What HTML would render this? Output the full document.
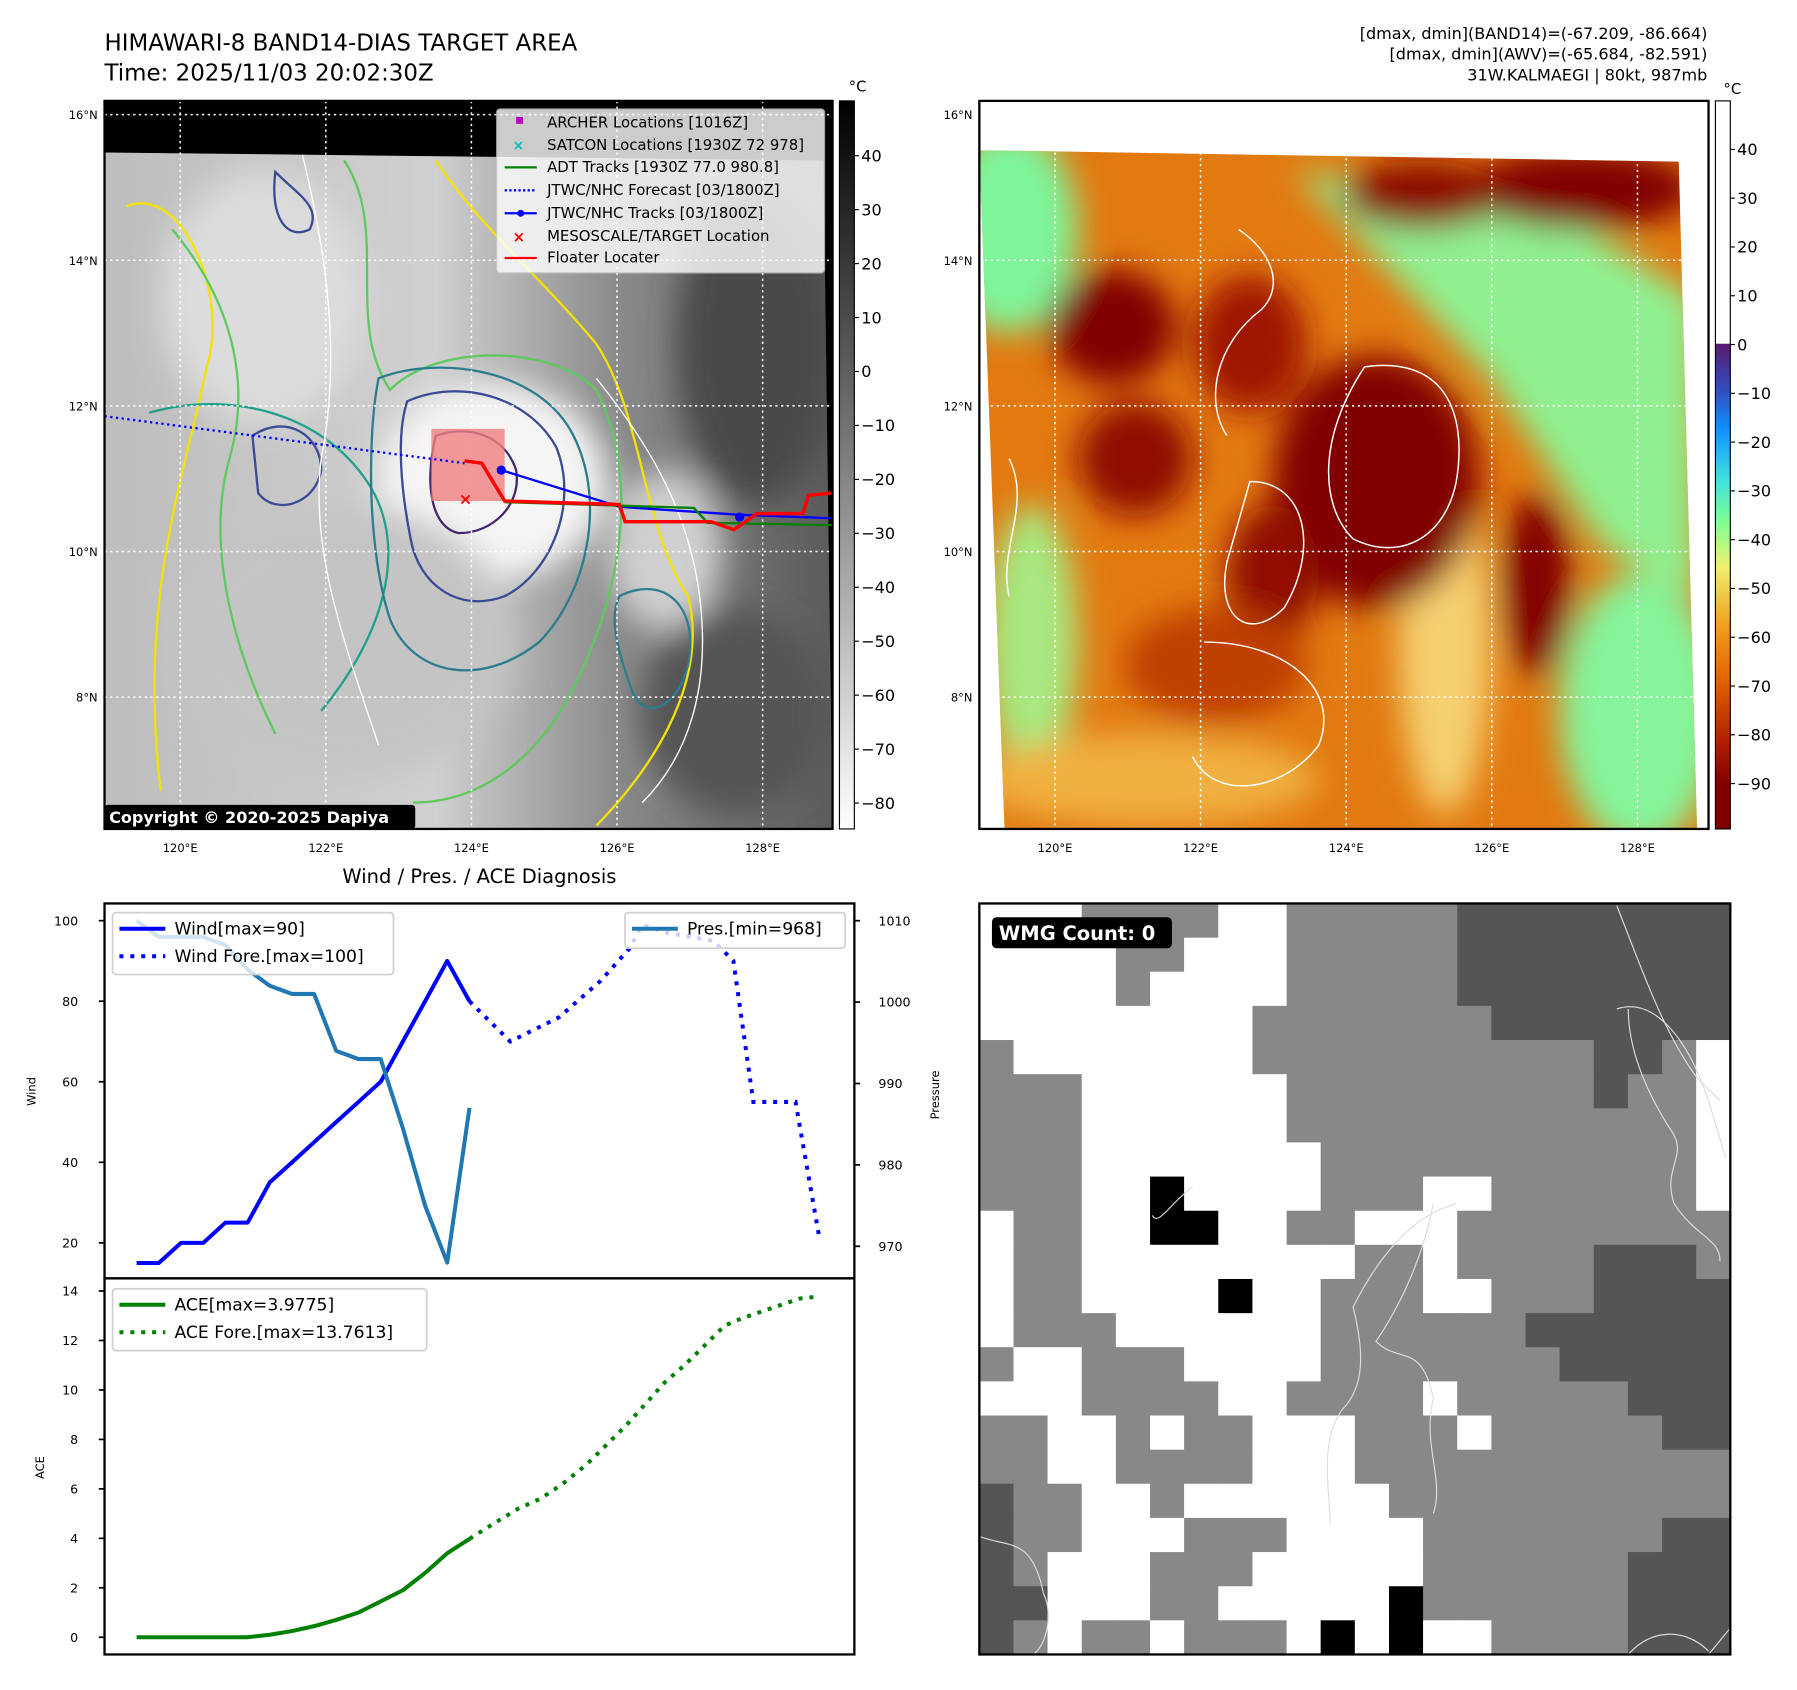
<!DOCTYPE html>
<html><head><meta charset="utf-8"><title>Dapiya diagnosis</title>
<style>
html,body{margin:0;padding:0;background:#fff;}
svg{display:block;font-family:"DejaVu Sans","Liberation Sans",sans-serif;}
</style></head>
<body>
<svg id="root" width="1797" height="1690" viewBox="0 0 1567 1474" xmlns="http://www.w3.org/2000/svg">
<defs>
  <filter id="blur8" x="-50%" y="-50%" width="200%" height="200%"><feGaussianBlur stdDeviation="14"/></filter>
  <clipPath id="clipL"><polygon points="91,133 718,140 726,723 91,723"/></clipPath>
  <clipPath id="clipR"><polygon points="854,131 1464,141 1480,723 876,723"/></clipPath>
  <linearGradient id="cbGray" x1="0" y1="0" x2="0" y2="1">
    <stop offset="0" stop-color="#000"/><stop offset="1" stop-color="#fff"/>
  </linearGradient>
  <linearGradient id="cbColor" x1="0" y1="0" x2="0" y2="1">
    <stop offset="0" stop-color="#fff"/><stop offset="0.333" stop-color="#fff"/>
    <stop offset="0.334" stop-color="#5a1a70"/><stop offset="0.40" stop-color="#3050c0"/>
    <stop offset="0.45" stop-color="#1090ff"/><stop offset="0.52" stop-color="#40e0e0"/>
    <stop offset="0.58" stop-color="#80ff90"/><stop offset="0.64" stop-color="#f0f070"/>
    <stop offset="0.72" stop-color="#f0a020"/><stop offset="0.80" stop-color="#e06000"/>
    <stop offset="0.88" stop-color="#b02000"/><stop offset="0.94" stop-color="#800000"/>
    <stop offset="1" stop-color="#800000"/>
  </linearGradient>
  <linearGradient id="satBase" x1="0" y1="0" x2="1" y2="0">
    <stop offset="0" stop-color="#bdbdbd"/><stop offset="0.45" stop-color="#d0d0d0"/>
    <stop offset="0.7" stop-color="#8a8a8a"/><stop offset="1" stop-color="#5a5a5a"/>
  </linearGradient>
</defs>

<text x="91" y="44" font-size="20">HIMAWARI-8 BAND14-DIAS TARGET AREA</text>
<text x="91" y="70" font-size="20">Time: 2025/11/03 20:02:30Z</text>
<g font-size="14" text-anchor="end">
  <text x="1489" y="34">[dmax, dmin](BAND14)=(-67.209, -86.664)</text>
  <text x="1489" y="52">[dmax, dmin](AWV)=(-65.684, -82.591)</text>
  <text x="1489" y="70">31W.KALMAEGI | 80kt, 987mb</text>
</g>

<g>
  <rect x="91" y="88" width="635" height="635" fill="#000"/>
  <g clip-path="url(#clipL)">
    <rect x="91" y="130" width="640" height="600" fill="url(#satBase)"/>
    <g filter="url(#blur8)">
      <ellipse cx="430" cy="420" rx="100" ry="85" fill="#f5f5f5"/>
      <ellipse cx="230" cy="260" rx="90" ry="110" fill="#dcdcdc"/>
      <ellipse cx="300" cy="560" rx="150" ry="120" fill="#c4c4c4"/>
      <ellipse cx="580" cy="480" rx="50" ry="70" fill="#cfcfcf"/>
      <ellipse cx="660" cy="300" rx="70" ry="140" fill="#4a4a4a"/>
      <ellipse cx="640" cy="620" rx="80" ry="90" fill="#555"/>
    </g>
    <g fill="none" stroke-width="2">
      <path d="M110,180 C160,160 200,260 180,320 C160,420 120,520 140,690" stroke="#f4e300"/>
      <path d="M380,140 C420,200 470,240 520,300 C560,360 560,460 600,520 C620,600 560,680 520,720" stroke="#f4e300"/>
      <path d="M300,140 C340,200 300,280 340,340 C380,300 480,300 520,340 C560,420 540,520 500,600 C470,660 420,700 360,700" stroke="#5ec95e"/>
      <path d="M150,200 C200,260 220,330 200,400 C180,470 200,560 240,640" stroke="#5ec95e"/>
      <path d="M130,360 C200,340 280,360 320,420 C360,480 330,560 280,620" stroke="#21a08a"/>
      <path d="M330,330 C380,310 470,320 500,380 C530,440 510,520 470,560 C420,600 360,590 340,540 C320,480 320,380 330,330Z" stroke="#2b7d8e"/>
      <path d="M355,350 C400,330 460,345 485,390 C505,440 480,500 440,520 C400,535 365,510 358,470 C350,430 345,380 355,350Z" stroke="#3b4a94"/>
      <path d="M380,380 C410,370 440,380 450,410 C455,440 430,465 400,465 C375,460 370,420 380,380Z" stroke="#46276f"/>
      <path d="M540,520 C580,500 610,530 600,580 C590,620 560,630 550,600 C540,570 530,540 540,520Z" stroke="#2b7d8e"/>
      <path d="M220,380 C250,360 280,380 280,410 C275,440 240,450 225,430Z" stroke="#3b4a94"/>
      <path d="M240,150 C260,170 280,180 270,200 C250,210 235,190 240,150Z" stroke="#3b4a94"/>
      <path d="M260,120 C280,200 300,300 280,400 C270,480 300,560 330,650" stroke="#ffffff" stroke-width="1.2"/>
      <path d="M520,330 C560,380 600,440 610,520 C620,600 600,660 560,700" stroke="#ffffff" stroke-width="1.2"/>
    </g>
  </g>
  <g stroke="#fff" stroke-width="1.3" stroke-dasharray="2,3">
    <line x1="91" y1="100" x2="726" y2="100"/><line x1="91" y1="227" x2="726" y2="227"/>
    <line x1="91" y1="354" x2="726" y2="354"/><line x1="91" y1="481" x2="726" y2="481"/>
    <line x1="91" y1="608" x2="726" y2="608"/>
    <line x1="157" y1="88" x2="157" y2="723"/><line x1="284" y1="88" x2="284" y2="723"/>
    <line x1="411" y1="88" x2="411" y2="723"/><line x1="538" y1="88" x2="538" y2="723"/>
    <line x1="665" y1="88" x2="665" y2="723"/>
  </g>
  <rect x="376" y="374" width="64" height="63" fill="#f08080" opacity="0.8"/>
  <path d="M91,363 L405,404" stroke="#00f" stroke-width="2" stroke-dasharray="2,3" fill="none"/>
  <path d="M437,410 L540,442 L645,449 L726,452" stroke="#00f" stroke-width="2" fill="none"/>
  <circle cx="437" cy="410" r="4" fill="#00f"/><circle cx="645" cy="451" r="4" fill="#00f"/>
  <path d="M440,438 L605,443 L617,456 L726,458" stroke="#008000" stroke-width="2" fill="none"/>
  <path d="M405,402 L420,404 L440,437 L540,440 L545,455 L620,455 L640,462 L660,448 L700,448 L705,432 L726,430" stroke="#f00" stroke-width="3" fill="none"/>
  <text x="400" y="440" font-size="14" fill="#f00" font-weight="bold">×</text>
  <rect x="91" y="88" width="635" height="635" fill="none" stroke="#000" stroke-width="2"/>
  <g font-size="13">
    <rect x="433" y="95" width="286" height="143" fill="#fff" opacity="0.8" stroke="#ccc" rx="3"/>
    <rect x="450" y="102" width="6" height="6" fill="#c000c0"/><text x="477" y="111">ARCHER Locations [1016Z]</text>
    <text x="447" y="131" fill="#00c0c0" font-weight="bold" font-size="12">×</text><text x="477" y="131">SATCON Locations [1930Z 72 978]</text>
    <line x1="440" y1="146" x2="468" y2="146" stroke="#008000" stroke-width="2"/><text x="477" y="150">ADT Tracks [1930Z 77.0 980.8]</text>
    <line x1="440" y1="166" x2="468" y2="166" stroke="#00f" stroke-width="2" stroke-dasharray="2,2"/><text x="477" y="170">JTWC/NHC Forecast [03/1800Z]</text>
    <line x1="440" y1="186" x2="468" y2="186" stroke="#00f" stroke-width="2"/><circle cx="454" cy="186" r="3" fill="#00f"/><text x="477" y="190">JTWC/NHC Tracks [03/1800Z]</text>
    <text x="447" y="211" fill="#f00" font-weight="bold" font-size="13">×</text><text x="477" y="210">MESOSCALE/TARGET Location</text>
    <line x1="440" y1="225" x2="468" y2="225" stroke="#f00" stroke-width="2"/><text x="477" y="229">Floater Locater</text>
  </g>
  <rect x="91" y="702" width="271" height="21" fill="#000" rx="3"/>
  <text x="95" y="718" font-size="14" font-weight="bold" fill="#fff">Copyright © 2020-2025 Dapiya</text>
</g>
<g font-size="10" text-anchor="end">
  <text x="85" y="104">16°N</text><text x="85" y="231">14°N</text><text x="85" y="358">12°N</text><text x="85" y="485">10°N</text><text x="85" y="612">8°N</text>
</g>
<g font-size="10" text-anchor="middle">
  <text x="157" y="743">120°E</text><text x="284" y="743">122°E</text><text x="411" y="743">124°E</text><text x="538" y="743">126°E</text><text x="665" y="743">128°E</text>
</g>
<g>
  <rect x="732" y="88" width="13" height="635" fill="url(#cbGray)" stroke="#000"/>
  <text x="740" y="80" font-size="13">°C</text>
  <g id="cbL" font-size="14"></g>
</g>

<g>
  <rect x="854" y="88" width="636" height="635" fill="#fff"/>
  <g clip-path="url(#clipR)">
    <rect x="850" y="125" width="640" height="605" fill="#e27a10"/>
    <g filter="url(#blur8)">
      <ellipse cx="880" cy="200" rx="60" ry="90" fill="#7ff59a"/>
      <path d="M1130,150 L1350,180 L1480,260 L1480,520 L1400,480 L1300,330 Z" fill="#90f090"/>
      <ellipse cx="1430" cy="620" rx="70" ry="120" fill="#86f49a"/>
      <ellipse cx="900" cy="560" rx="40" ry="120" fill="#a8e880"/>
      <ellipse cx="1260" cy="560" rx="40" ry="150" fill="#f5d070"/>
      <ellipse cx="1000" cy="680" rx="150" ry="40" fill="#f0b040"/>
      <ellipse cx="1380" cy="165" rx="100" ry="35" fill="#800000"/>
      <ellipse cx="1240" cy="170" rx="70" ry="30" fill="#8a0800"/>
      <ellipse cx="970" cy="285" rx="55" ry="50" fill="#800000"/>
      <ellipse cx="1090" cy="300" rx="50" ry="60" fill="#a01800"/>
      <ellipse cx="1200" cy="420" rx="90" ry="110" fill="#800000"/>
      <ellipse cx="990" cy="400" rx="50" ry="50" fill="#900800"/>
      <ellipse cx="1340" cy="510" rx="30" ry="80" fill="#800000"/>
      <ellipse cx="1110" cy="500" rx="40" ry="60" fill="#900c00"/>
      <ellipse cx="1060" cy="580" rx="80" ry="50" fill="#c04000"/>
    </g>
    <g fill="none" stroke="#fff" stroke-width="1.3">
      <path d="M1080,200 C1110,220 1120,250 1100,270 C1060,300 1050,350 1070,380"/>
      <path d="M1190,320 C1260,310 1280,360 1270,420 C1260,470 1220,490 1180,470 C1150,440 1150,380 1190,320Z"/>
      <path d="M1090,420 C1140,420 1150,480 1120,530 C1090,560 1060,540 1070,490Z"/>
      <path d="M880,400 C900,440 870,480 880,520"/>
      <path d="M1050,560 C1120,560 1170,600 1150,650 C1120,690 1060,700 1040,660"/>
    </g>
  </g>
  <g stroke="#fff" stroke-width="1.3" stroke-dasharray="2,3">
    <line x1="854" y1="100" x2="1490" y2="100"/><line x1="854" y1="227" x2="1490" y2="227"/>
    <line x1="854" y1="354" x2="1490" y2="354"/><line x1="854" y1="481" x2="1490" y2="481"/>
    <line x1="854" y1="608" x2="1490" y2="608"/>
    <line x1="920" y1="88" x2="920" y2="723"/><line x1="1047" y1="88" x2="1047" y2="723"/>
    <line x1="1174" y1="88" x2="1174" y2="723"/><line x1="1301" y1="88" x2="1301" y2="723"/>
    <line x1="1428" y1="88" x2="1428" y2="723"/>
  </g>
  <rect x="854" y="88" width="636" height="635" fill="none" stroke="#000" stroke-width="2"/>
</g>
<g font-size="10" text-anchor="end">
  <text x="848" y="104">16°N</text><text x="848" y="231">14°N</text><text x="848" y="358">12°N</text><text x="848" y="485">10°N</text><text x="848" y="612">8°N</text>
</g>
<g font-size="10" text-anchor="middle">
  <text x="920" y="743">120°E</text><text x="1047" y="743">122°E</text><text x="1174" y="743">124°E</text><text x="1301" y="743">126°E</text><text x="1428" y="743">128°E</text>
</g>
<g>
  <rect x="1496" y="88" width="13" height="635" fill="url(#cbColor)" stroke="#000"/>
  <text x="1503" y="82" font-size="13">°C</text>
  <g id="cbR" font-size="14"></g>
</g>

<text x="418" y="770" font-size="17" text-anchor="middle">Wind / Pres. / ACE Diagnosis</text>
<g id="chart"></g>

<g>
  <g id="wmg"></g>
  <g fill="none" stroke="#ddd" stroke-width="1">
    <path d="M1410,790 C1430,840 1450,900 1480,940 L1500,960"/>
    <path d="M1410,880 C1440,870 1470,900 1490,960 L1505,1010 M1420,880 C1420,920 1440,960 1460,990 C1470,1010 1450,1020 1460,1050 C1480,1080 1500,1080 1500,1100"/>
    <path d="M1270,1050 C1230,1060 1200,1100 1180,1140 C1190,1180 1190,1210 1170,1230 C1150,1260 1160,1300 1160,1330"/>
    <path d="M1250,1050 C1240,1100 1220,1140 1200,1170 C1220,1190 1240,1170 1250,1220 C1240,1260 1260,1290 1250,1320"/>
    <path d="M854,1340 C880,1350 900,1340 910,1390 C920,1410 910,1440 900,1443"/>
    <path d="M1040,1035 C1020,1050 1010,1070 1005,1060"/>
    <path d="M1420,1443 C1440,1420 1470,1420 1490,1440 M1490,1443 L1509,1420"/>
  </g>
  <rect x="854" y="788" width="655" height="655" fill="none" stroke="#000" stroke-width="2"/>
  <rect x="865" y="800" width="157" height="27" rx="4" fill="#000"/>
  <text x="871" y="820" font-size="17" font-weight="bold" fill="#fff">WMG Count: 0</text>
</g>
</svg>

<script>
var obsIdx = [0,1,2,3,4,5,6,7,8,9,10,11,12,13,14,15];
var obsWind = [15,15,20,20,25,25,35,40,45,50,55,60,70,80,90,80];
var obsPres = [1010,1008,1008,1008,1007,1004,1002,1001,1001,994,993,993,984.5,975,968,987];
var foreIdx = [15,16.84,19.04,20.9,22.2,22.8,23.9,26,26.9,27.8,29.7,30.75];
var foreWind = [80,70,76,85,93,99,97,95,90,55,55,22];
var aceObs = [0,0,0,0,0,0,0.1,0.25,0.45,0.7,1.0,1.45,1.9,2.6,3.4,3.98];
var aceForeIdx = [15,16.1,17.2,18.2,19.2,20.3,21.2,22.1,23.0,23.8,24.7,25.6,26.5,27.3,28.6,29.9,30.6];
var aceFore = [3.98,4.6,5.2,5.6,6.2,7.0,7.8,8.6,9.5,10.3,11.0,11.8,12.6,12.9,13.3,13.7,13.76];
var windTicks = [20,40,60,80,100];
var presTicks = [970,980,990,1000,1010];
var aceTicks = [0,2,4,6,8,10,12,14];
var cbLeftTicks = [40,30,20,10,0,-10,-20,-30,-40,-50,-60,-70,-80];
var cbRightTicks = [40,30,20,10,0,-10,-20,-30,-40,-50,-60,-70,-80,-90];

var NS = "http://www.w3.org/2000/svg";
function mk(tag, attrs, parent, txt){
  var e = document.createElementNS(NS, tag);
  for (var k in attrs) e.setAttribute(k, attrs[k]);
  if (txt !== undefined) e.textContent = txt;
  parent.appendChild(e);
  return e;
}
function xS(i){ return 119 + i*19.35; }
function yW(v){ return 803 + (100 - v)*3.5125; }
function yP(p){ return 803 + (1010 - p)*7.1; }
function yA(a){ return 1428 - a*21.57; }
function pts(xs, ys, fy){ return xs.map(function(x,i){ return xS(x).toFixed(1)+","+fy(ys[i]).toFixed(1); }).join(" "); }

var ch = document.getElementById("chart");
var f1 = mk("rect",{x:91,y:788,width:654,height:327,fill:"#fff",stroke:"#000","stroke-width":2},ch);


var f2 = mk("rect",{x:91,y:1115,width:654,height:328,fill:"#fff",stroke:"#000","stroke-width":2},ch);



windTicks.forEach(function(v){
  var l = mk("line",{x1:86,x2:91,y1:yW(v),y2:yW(v),stroke:"#000","stroke-width":1.5},ch);
  
  
  var t = mk("text",{x:68,y:yW(v)+4,"font-size":11,"text-anchor":"end"},ch,String(v));
  
  
});
presTicks.forEach(function(v){
  var l = mk("line",{x1:745,x2:750,y1:yP(v),y2:yP(v),stroke:"#000","stroke-width":1.5},ch);
  
  
  var t = mk("text",{x:766,y:yP(v)+4,"font-size":11},ch,String(v));
  
  
});
aceTicks.forEach(function(v){
  var l = mk("line",{x1:86,x2:91,y1:yA(v),y2:yA(v),stroke:"#000","stroke-width":1.5},ch);
  
  
  var t = mk("text",{x:68,y:yA(v)+4,"font-size":11,"text-anchor":"end"},ch,String(v));
  
  
});
var yl1 = mk("text",{x:0,y:0,"font-size":10,"text-anchor":"middle",transform:"translate(31,952) rotate(-90)"},ch,"Wind");


var yl2 = mk("text",{x:0,y:0,"font-size":10,"text-anchor":"middle",transform:"translate(819,955) rotate(-90)"},ch,"Pressure");


var yl3 = mk("text",{x:0,y:0,"font-size":10,"text-anchor":"middle",transform:"translate(38,1280) rotate(-90)"},ch,"ACE");



var lw = mk("polyline",{points:pts(obsIdx,obsWind,yW),fill:"none",stroke:"#0000ff","stroke-width":3.5,"stroke-linejoin":"round"},ch);


var lwf = mk("polyline",{points:pts(foreIdx,foreWind,yW),fill:"none",stroke:"#0000ff","stroke-width":3.5,"stroke-dasharray":"3.5,6"},ch);


var lp = mk("polyline",{points:pts(obsIdx,obsPres,yP),fill:"none",stroke:"#1f77b4","stroke-width":3.5,"stroke-linejoin":"round"},ch);


var la = mk("polyline",{points:pts(obsIdx,aceObs,yA),fill:"none",stroke:"#008000","stroke-width":3.5,"stroke-linejoin":"round"},ch);


var laf = mk("polyline",{points:pts(aceForeIdx,aceFore,yA),fill:"none",stroke:"#008000","stroke-width":3.5,"stroke-dasharray":"3.5,6"},ch);



function legend(x,y,w,h,items,name){
  var g = mk("g",{},ch);
  
  
  mk("rect",{x:x,y:y,width:w,height:h,rx:3,fill:"#fff","fill-opacity":0.8,stroke:"#d0d0d0","stroke-width":1.5},g);
  items.forEach(function(it,i){
    var yy = y+14+i*24;
    var a = {x1:x+6,x2:x+46,y1:yy,y2:yy,stroke:it[1],"stroke-width":3.5};
    if (it[2]) a["stroke-dasharray"]="3.5,6";
    mk("line",a,g);
    mk("text",{x:x+54,y:yy+5,"font-size":15},g,it[0]);
  });
}
legend(98,796,245,54,[["Wind[max=90]","#0000ff",false],["Wind Fore.[max=100]","#0000ff",true]],"wind-legend");
legend(545,796,192,31,[["Pres.[min=968]","#1f77b4",false]],"pressure-legend");
legend(98,1124,274,54,[["ACE[max=3.9775]","#008000",false],["ACE Fore.[max=13.7613]","#008000",true]],"ace-legend");

var cbL = document.getElementById("cbL");
cbLeftTicks.forEach(function(v){
  var y = 324 - v*4.705;
  mk("line",{x1:745,x2:749,y1:y,y2:y,stroke:"#000"},cbL);
  var t = mk("text",{x:751,y:y+5},cbL,(v<0?"\u2212"+(-v):String(v)));
  
  
});
var cbR = document.getElementById("cbR");
cbRightTicks.forEach(function(v){
  var y = 300.5 - v*4.255;
  mk("line",{x1:1509,x2:1513,y1:y,y2:y,stroke:"#000"},cbR);
  var t = mk("text",{x:1515,y:y+5},cbR,(v<0?"\u2212"+(-v):String(v)));
  
  
});

var wmgRows = [
"WWWGGGGWWGGGGGDDDDDDDD",
"WWWWGGWWWGGGGGDDDDDDDD",
"WWWWGWWWWGGGGGDDDDDDDD",
"WWWWWWWWGGGGGGGDDDDDDD",
"GWWWWWWWGGGGGGGGGGDDGW",
"GGGWWWWWWGGGGGGGGGDGGW",
"GGGWWWWWWGGGGGGGGGGGGW",
"GGGWWWWWWWGGGGGGGGGGGW",
"GGGWWKWWWWGGGWWGGGGGGW",
"WGGWWKKWWGGWWWGGGGGGGG",
"WGGWWWWWWWWGGWGGGGDDDG",
"WGGWWWWKWWGGGWWGGGDDDD",
"WGGGWWWWWWGGGGGGDDDDDD",
"GWWGGGWWWWGGGGGGGDDDDD",
"WWWGGGGWWGGGGWGGGGGDDD",
"GGWWGWGGWWWGGGWGGGGGDD",
"GGWWGGGGWWWGGGGGGGGGGG",
"DGGWWGWWWWWWGGGGGGGGGG",
"DGGWWWGGGWWWWGGGGGGGDD",
"DGWWWGGGWWWWWGGGGGGDDD",
"DDWWWGGWWWWWKGGGGGGDDD",
"DGWGGWGGGWKWKWWGGGGDDD"];
var wmgColors = {W:"#ffffff",G:"#888888",D:"#555555",K:"#000000"};
var wg = document.getElementById("wmg");
var cw = 655/22;
wmgRows.forEach(function(row,r){
  for (var c=0;c<row.length;c++){
    var cell = mk("rect",{x:(854+c*cw).toFixed(1),y:(788+r*cw).toFixed(1),width:(cw+0.6).toFixed(1),height:(cw+0.6).toFixed(1),fill:wmgColors[row[c]]},wg);
    
    
  }
});
</script>
</body></html>
